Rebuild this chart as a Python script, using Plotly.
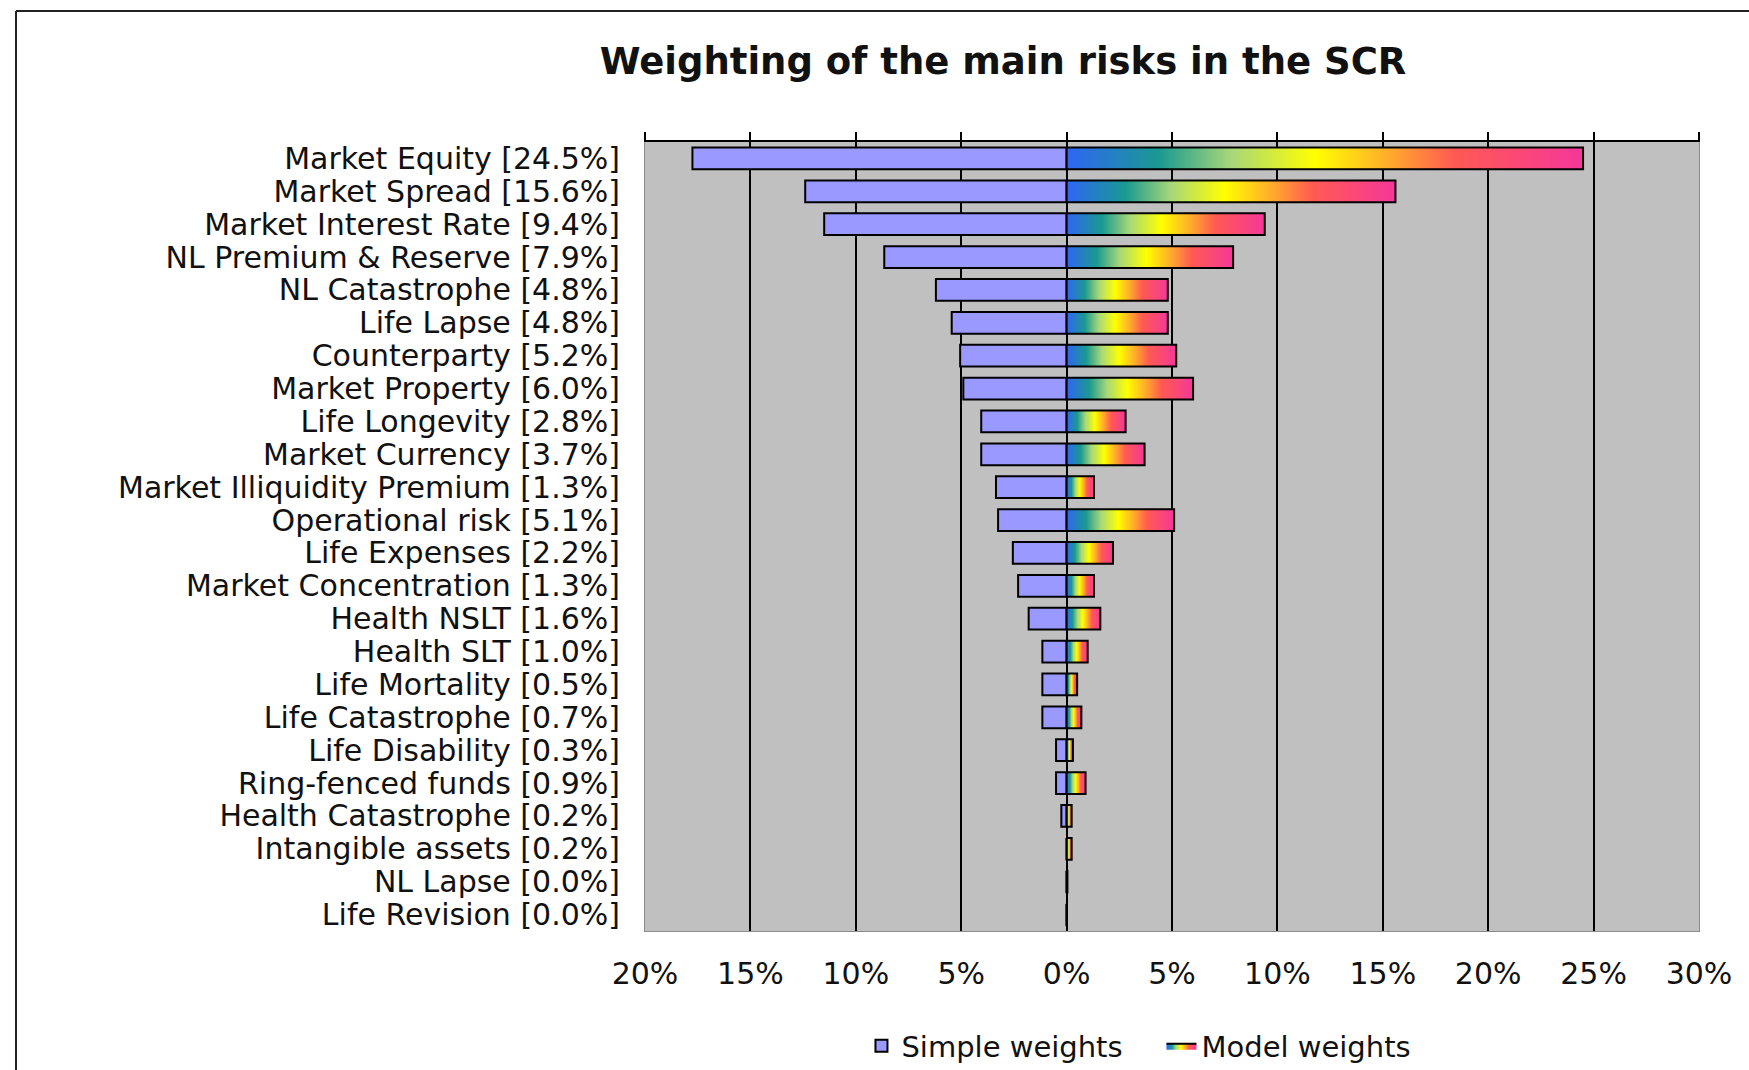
import plotly.graph_objects as go

RISKS = [
    "Market Equity", "Market Spread", "Market Interest Rate", "NL Premium & Reserve",
    "NL Catastrophe", "Life Lapse", "Counterparty", "Market Property", "Life Longevity",
    "Market Currency", "Market Illiquidity Premium", "Operational risk", "Life Expenses",
    "Market Concentration", "Health NSLT", "Health SLT", "Life Mortality", "Life Catastrophe",
    "Life Disability", "Ring-fenced funds", "Health Catastrophe", "Intangible assets",
    "NL Lapse", "Life Revision",
]
MODEL_WEIGHTS = [24.5, 15.6, 9.4, 7.9, 4.8, 4.8, 5.2, 6.0, 2.8, 3.7, 1.3, 5.1, 2.2, 1.3,
                 1.6, 1.0, 0.5, 0.7, 0.3, 0.9, 0.24, 0.24, 0.04, 0.01]
SIMPLE_WEIGHTS = [17.75, 12.4, 11.5, 8.65, 6.2, 5.45, 5.05, 4.9, 4.05, 4.05, 3.35, 3.25, 2.55,
                  2.3, 1.8, 1.15, 1.15, 1.15, 0.5, 0.5, 0.25, 0.0, 0.0, 0.0]
X_TICKS = [-20, -15, -10, -5, 0, 5, 10, 15, 20, 25, 30]

GRADIENT = [[0.0, "#2f66f5"], [0.18, "#1a9a90"], [0.32, "#a8d878"], [0.48, "#ffff00"],
            [0.62, "#ffae2a"], [0.75, "#ff5a52"], [1.0, "#f5379a"]]
FONT = "DejaVu Sans"
BAR_W = 0.66

labels = [f"{name} [{value:.1f}%]" for name, value in zip(RISKS, MODEL_WEIGHTS)]
rows = list(range(len(RISKS)))

fig = go.Figure()
fig.add_trace(go.Bar(
    y=rows, x=[-v for v in SIMPLE_WEIGHTS], orientation="h", width=BAR_W,
    marker={"color": "#9999ff", "line": {"color": "black", "width": 2}},
    name="Simple weights",
))
half = BAR_W / 2
for i, value in enumerate(MODEL_WEIGHTS):
    fig.add_trace(go.Scatter(
        x=[0, value, value, 0, 0],
        y=[i - half, i - half, i + half, i + half, i - half],
        mode="lines", fill="toself",
        fillgradient={"type": "horizontal", "colorscale": GRADIENT},
        line={"color": "black", "width": 2},
        name="Model weights", legendgroup="model", showlegend=(i == 0),
    ))
# empty traces so the top axis and the grid axis get drawn
for axis in ("x2", "x3"):
    fig.add_trace(go.Scatter(x=[None], y=[None], xaxis=axis, yaxis="y",
                             showlegend=False, hoverinfo="skip"))

# frame drawn round the chart in the original picture
px_x = lambda p: (p - 645) / 1054
px_y = lambda p: (931 - p) / 789
fig.add_shape(type="line", xref="paper", yref="paper", x0=px_x(16), x1=px_x(16),
              y0=px_y(1080), y1=px_y(11), line={"color": "#222", "width": 2})
fig.add_shape(type="line", xref="paper", yref="paper", x0=px_x(16), x1=px_x(1760),
              y0=px_y(11), y1=px_y(11), line={"color": "#222", "width": 2})

fig.update_layout(
    width=1749, height=1070,
    margin={"l": 645, "r": 50, "t": 142, "b": 139, "autoexpand": False},
    paper_bgcolor="white", plot_bgcolor="#c0c0c0",
    font={"family": FONT, "size": 30, "color": "#111"},
    barmode="overlay",
    title={"text": "Weighting of the main risks in the SCR", "x": 1003 / 1749, "xanchor": "center",
           "y": 1 - 61 / 1070, "yanchor": "middle",
           "font": {"family": FONT, "size": 37, "weight": "bold", "color": "#111"}},
    xaxis={"range": [-20, 30], "tickvals": X_TICKS, "ticktext": [f"{abs(t)}%" for t in X_TICKS],
           "showgrid": False, "zeroline": False, "showline": True, "linecolor": "#8c8c8c",
           "linewidth": 1, "ticks": "", "ticklabelstandoff": 16, "automargin": False},
    xaxis2={"range": [-20, 30], "overlaying": "x", "side": "top", "anchor": "y",
            "tickvals": X_TICKS, "ticks": "outside", "ticklen": 8, "tickwidth": 2,
            "tickcolor": "black", "showline": True, "linecolor": "black", "linewidth": 2,
            "showticklabels": False, "showgrid": False, "zeroline": False, "automargin": False},
    xaxis3={"range": [-20, 30], "overlaying": "x", "anchor": "y", "tickvals": X_TICKS[1:-1],
            "showgrid": True, "gridcolor": "black", "gridwidth": 2, "showticklabels": False,
            "ticks": "", "zeroline": False, "showline": False, "automargin": False},
    yaxis={"range": [len(RISKS) - 0.5, -0.5], "tickvals": rows, "ticktext": labels,
           "showgrid": False, "zeroline": False, "showline": True, "linecolor": "#8c8c8c",
           "linewidth": 1, "mirror": True, "ticks": "", "ticklabelstandoff": 18,
           "automargin": False},
    legend={"orientation": "h", "x": 0.49, "xanchor": "center",
            "yref": "container", "y": 1 - 1046 / 1070, "yanchor": "middle",
            "entrywidth": 255, "font": {"family": FONT, "size": 29, "color": "#111"},
            "bgcolor": "rgba(0,0,0,0)"},
    showlegend=True,
)

fig.write_html("out.html", config={"displayModeBar": False},
               post_script="document.body.style.margin='0';")
